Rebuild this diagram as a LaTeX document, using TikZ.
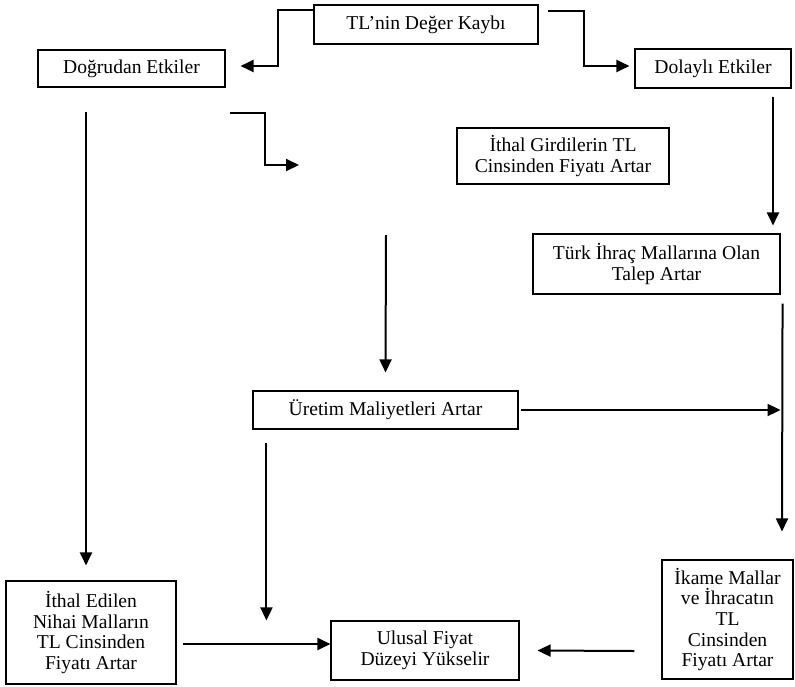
\documentclass[tikz,border=0pt]{standalone}
\usepackage{fontspec}
\setmainfont{Liberation Serif}
\usepackage{tikz}
\usetikzlibrary{arrows.meta}

\begin{document}
\begin{tikzpicture}[x=1pt, y=-1pt,
	kutu/.style={rectangle, draw=black, line width=1.1pt, inner sep=0pt, align=center, font=\fontsize{19.6}{20.6}\selectfont},
	ok/.style={line width=2pt, -{Triangle[length=13pt,width=12pt]}}]
	\useasboundingbox (0,0) rectangle (795,686);

	\node[kutu, minimum width=224pt, minimum height=39pt] (tl) at (426,24.5) {TL’nin Değer Kaybı};
	\node[kutu, minimum width=187pt, minimum height=37pt] (dogrudan) at (131.5,68.5) {Doğrudan Etkiler};
	\node[kutu, minimum width=156pt, minimum height=39pt] (dolayli) at (713,68.5) {Dolaylı Etkiler};
	\node[kutu, minimum width=212pt, minimum height=56pt] (girdi) at (563,156) {İthal Girdilerin TL\\Cinsinden Fiyatı Artar};
	\node[kutu, minimum width=247pt, minimum height=60pt] (turk) at (656.5,264) {Türk İhraç Mallarına Olan\\Talep Artar};
	\node[kutu, minimum width=265pt, minimum height=38pt] (uretim) at (385.5,410) {Üretim Maliyetleri Artar};
	\node[kutu, minimum width=170pt, minimum height=103pt] (ithal) at (91,632.5) {İthal Edilen\\Nihai Malların\\TL Cinsinden\\Fiyatı Artar};
	\node[kutu, minimum width=188pt, minimum height=59pt] (ulusal) at (425,650.5) {Ulusal Fiyat\\Düzeyi Yükselir};
	\node[kutu, minimum width=131pt, minimum height=119pt] (ikame) at (727.5,619.5) {İkame Mallar\\ve İhracatın\\TL\\Cinsinden\\Fiyatı Artar};

	\coordinate (bos) at (299,165);
	\coordinate (ust) at (386,235);

	% ust kisim
	\draw[ok] ([yshift=-6pt]tl.north west) -- ++(-35,0) |- ([xshift=15pt,yshift=2.5pt]dogrudan.east);
	\draw[ok] ([xshift=9pt,yshift=-7pt]tl.north east) -- ++(36,0) |- ([xshift=-5pt,yshift=2.5pt]dolayli.west);
	\draw[ok] ([xshift=4pt,yshift=-25pt]dogrudan.south east) -- ++(35,0) |- (bos);

	% dikey oklar
	\draw[ok] ([xshift=-45.5pt,yshift=-24pt]dogrudan.south) -- ([xshift=-5pt,yshift=15pt]ithal.north);
	\draw[ok] (ust) -- ([yshift=18pt]uretim.north);
	\draw[ok] ([xshift=60pt,yshift=-8pt]dolayli.south) -- ([xshift=116.5pt,yshift=8pt]turk.north);
	\draw[ok] ([xshift=2pt,yshift=-9pt]turk.south east) -- ([xshift=54.5pt,yshift=28pt]ikame.north);
	\draw[ok] ([xshift=14pt,yshift=-13pt]uretim.south west) -- ([xshift=-64pt]ulusal.north west);

	% yatay oklar
	\draw[ok] ([xshift=2pt]uretim.east) -- (uretim.east -| turk.south east);
	\draw[ok] ([xshift=6pt,yshift=-11.5pt]ithal.east) -- ([yshift=6.5pt]ulusal.west);
	\draw[ok] ([xshift=-27pt,yshift=-31.5pt]ikame.west) -- ([xshift=18pt]ulusal.east);
\end{tikzpicture}
\end{document}
